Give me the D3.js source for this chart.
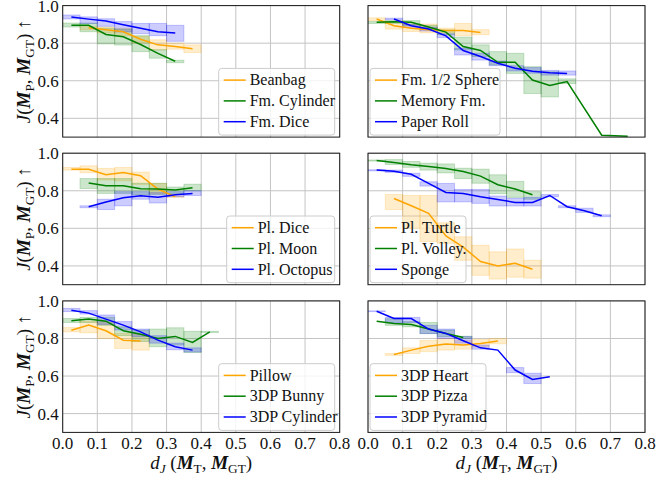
<!DOCTYPE html>
<html>
<head>
<meta charset="utf-8">
<script src="https://cdn.jsdelivr.net/npm/d3@7"></script>
</head>
<body style="margin:0">
<div id="chart"></div>
<script>

// each series: [x (bin centre), mean, low, high]

var beanbag = [[0.075,0.882,0.871,0.889],[0.125,0.871,0.854,0.886],[0.175,0.861,0.839,0.880],
  [0.225,0.821,0.800,0.836],[0.275,0.791,0.764,0.818],[0.325,0.782,0.768,0.800],[0.375,0.770,0.750,0.791]];
var fmCylinder = [[0.025,0.895,0.886,0.907],[0.075,0.895,0.861,0.907],[0.125,0.846,0.796,0.880],
  [0.175,0.834,0.790,0.875],[0.225,0.793,0.755,0.840],[0.275,0.746,0.720,0.765],[0.325,0.704,0.696,0.709]];
var fmDice = [[0.025,0.939,0.929,0.950],[0.075,0.928,0.905,0.940],[0.125,0.918,0.890,0.930],
  [0.175,0.898,0.860,0.915],[0.225,0.879,0.850,0.905],[0.275,0.861,0.840,0.905],[0.325,0.854,0.810,0.895]];

var fmHalfSphere = [[0.025,0.929,0.920,0.935],[0.075,0.893,0.875,0.915],[0.125,0.880,0.862,0.902],
  [0.175,0.871,0.855,0.902],[0.225,0.868,0.855,0.880],[0.275,0.868,0.840,0.905],[0.325,0.857,0.845,0.872]];
var memoryFm = [[0.025,0.911,0.905,0.915],[0.075,0.914,0.905,0.920],[0.125,0.911,0.895,0.920],
  [0.175,0.886,0.875,0.895],[0.225,0.859,0.845,0.870],[0.275,0.782,0.764,0.832],[0.325,0.761,0.729,0.791],
  [0.375,0.698,0.684,0.755],[0.425,0.698,0.639,0.746],[0.475,0.604,0.532,0.675],[0.525,0.575,0.514,0.648],
  [0.575,0.596,0.585,0.610],[0.675,0.310,0.310,0.310],[0.750,0.305,0.305,0.305]];
var paperRoll = [[0.075,0.929,0.925,0.933],[0.125,0.893,0.885,0.900],[0.175,0.875,0.865,0.885],
  [0.225,0.839,0.830,0.850],[0.275,0.761,0.737,0.773],[0.325,0.729,0.710,0.746],[0.375,0.693,0.680,0.705],
  [0.425,0.666,0.652,0.680],[0.475,0.650,0.640,0.670],[0.525,0.643,0.630,0.655],[0.575,0.639,0.630,0.652]];

var plDice = [[0.025,0.915,0.910,0.924],[0.075,0.915,0.896,0.933],[0.125,0.885,0.857,0.919],
  [0.175,0.897,0.853,0.924],[0.225,0.880,0.834,0.900],[0.275,0.809,0.786,0.839],[0.325,0.768,0.765,0.772]];
var plMoon = [[0.075,0.841,0.812,0.865],[0.125,0.827,0.786,0.865],[0.175,0.827,0.786,0.865],
  [0.225,0.811,0.780,0.840],[0.275,0.809,0.780,0.840],[0.325,0.804,0.785,0.820],[0.375,0.816,0.800,0.835]];
var plOctopus = [[0.075,0.715,0.710,0.720],[0.125,0.740,0.700,0.755],[0.175,0.763,0.720,0.795],
  [0.225,0.773,0.755,0.795],[0.275,0.766,0.735,0.790],[0.325,0.779,0.768,0.795],[0.375,0.786,0.775,0.800]];

var plTurtle = [[0.075,0.759,0.700,0.780],[0.125,0.720,0.600,0.775],[0.175,0.680,0.530,0.775],
  [0.225,0.560,0.520,0.630],[0.275,0.500,0.430,0.555],[0.325,0.423,0.350,0.510],[0.375,0.400,0.330,0.475],
  [0.425,0.414,0.340,0.490],[0.475,0.382,0.335,0.430]];
var plVolley = [[0.025,0.961,0.958,0.964],[0.075,0.950,0.940,0.966],[0.125,0.938,0.925,0.956],
  [0.175,0.929,0.910,0.947],[0.225,0.918,0.895,0.943],[0.275,0.903,0.865,0.920],[0.325,0.878,0.840,0.915],
  [0.375,0.832,0.785,0.885],[0.425,0.809,0.765,0.850],[0.475,0.779,0.755,0.795]];
var sponge = [[0.025,0.910,0.906,0.912],[0.075,0.904,0.898,0.910],[0.125,0.888,0.877,0.893],
  [0.175,0.839,0.825,0.848],[0.225,0.791,0.741,0.839],[0.275,0.786,0.741,0.807],[0.325,0.768,0.733,0.807],
  [0.375,0.754,0.719,0.772],[0.425,0.738,0.719,0.760],[0.475,0.738,0.719,0.765],[0.525,0.775,0.768,0.780],
  [0.575,0.715,0.710,0.720],[0.625,0.694,0.685,0.707],[0.675,0.667,0.662,0.672]];

var pillow = [[0.025,0.844,0.835,0.858],[0.075,0.871,0.830,0.892],[0.125,0.841,0.800,0.888],
  [0.175,0.791,0.747,0.827],[0.225,0.786,0.738,0.821]];
var bunny3dp = [[0.025,0.894,0.885,0.906],[0.075,0.903,0.885,0.912],[0.125,0.892,0.870,0.912],
  [0.175,0.841,0.815,0.862],[0.225,0.823,0.784,0.845],[0.275,0.800,0.756,0.850],[0.325,0.811,0.765,0.857],
  [0.375,0.779,0.725,0.838],[0.425,0.835,0.832,0.838]];
var cylinder3dp = [[0.025,0.950,0.943,0.960],[0.075,0.935,0.930,0.948],[0.125,0.903,0.875,0.925],
  [0.175,0.871,0.845,0.890],[0.225,0.835,0.810,0.850],[0.275,0.791,0.775,0.815],[0.325,0.756,0.740,0.775],
  [0.375,0.738,0.728,0.750]];

var heart3dp = [[0.075,0.715,0.710,0.720],[0.125,0.738,0.720,0.750],[0.175,0.759,0.730,0.790],
  [0.225,0.770,0.738,0.800],[0.275,0.765,0.743,0.790],[0.325,0.773,0.755,0.795],[0.375,0.786,0.772,0.800]];
var pizza3dp = [[0.025,0.892,0.892,0.892],[0.075,0.880,0.870,0.905],[0.125,0.874,0.862,0.890],
  [0.175,0.850,0.826,0.885],[0.225,0.827,0.810,0.845],[0.275,0.805,0.800,0.812]];
var pyramid3dp = [[0.025,0.945,0.943,0.947],[0.075,0.906,0.885,0.912],[0.125,0.906,0.885,0.912],
  [0.175,0.850,0.826,0.870],[0.225,0.827,0.800,0.850],[0.275,0.788,0.775,0.810],[0.325,0.750,0.743,0.765],
  [0.375,0.738,0.738,0.738],[0.425,0.632,0.618,0.645],[0.475,0.582,0.560,0.615],[0.525,0.596,0.596,0.596]];

var colors = ["orange", "green", "blue"];
var xTicks = [0.0, 0.1, 0.2, 0.3, 0.4, 0.5, 0.6, 0.7, 0.8];
var yTicks = [0.4, 0.6, 0.8, 1.0];
var binWidth = 0.05;

// panels in reading order, left column then right column per row
// (legend box widths measured off the reference, so no text measuring is needed)
var panels = [
  { names: ["Beanbag", "Fm. Cylinder", "Fm. Dice"], data: [beanbag, fmCylinder, fmDice], legend: "right", lw: 116 },
  { names: ["Fm. 1/2 Sphere", "Memory Fm.", "Paper Roll"], data: [fmHalfSphere, memoryFm, paperRoll], legend: "left", lw: 130 },
  { names: ["Pl. Dice", "Pl. Moon", "Pl. Octopus"], data: [plDice, plMoon, plOctopus], legend: "right", lw: 108 },
  { names: ["Pl. Turtle", "Pl. Volley.", "Sponge"], data: [plTurtle, plVolley, sponge], legend: "left", lw: 96 },
  { names: ["Pillow", "3DP Bunny", "3DP Cylinder"], data: [pillow, bunny3dp, cylinder3dp], legend: "right", lw: 116 },
  { names: ["3DP Heart", "3DP Pizza", "3DP Pyramid"], data: [heart3dp, pizza3dp, pyramid3dp], legend: "left", lw: 116 }
];

// layout

var W = 668, H = 479;
var colX = [62.7, 368];
var rowY = [5.6, 153.2, 300.9];
var pw = 277, ph = 131.5;
var fontName = "'Liberation Serif'";

var svg = d3.select("#chart")
  .append("svg")
  .attr("width", W)
  .attr("height", H);

var x = d3.scaleLinear().domain([0, 0.8]).range([0, pw]);
var y = d3.scaleLinear().domain([0.3, 1.0]).range([ph, 0]);

var line = d3.line()
  .x(function(d) { return x(d[0]); })
  .y(function(d) { return y(d[1]); });

// all text goes through here so the serif face is set on the element itself
var addText = function(parent, size) {
  return parent.append("text")
    .attr("font-size", size)
    .attr("fill", "#111")
    .style("font-family", fontName);
};

// writes math-ish text made of parts into a text element
var mathText = function(sel, parts, size) {
  parts.forEach(function(p) {
    var t = sel.append("tspan").text(p.t).style("font-family", fontName);
    if (p.it) { t.style("font-style", "italic"); }
    if (p.bold) { t.style("font-weight", "bold"); }
    if (p.sub) {
      t.attr("font-size", size * 0.7).attr("dy", size * 0.2);
    } else if (p.after) {
      t.attr("dy", -size * 0.2);
    }
  });
};

var yLabelParts = [
  { t: "J", it: true }, { t: "(" }, { t: "M", it: true, bold: true }, { t: "P", sub: true },
  { t: ", ", after: true }, { t: "M", it: true, bold: true }, { t: "GT", sub: true },
  { t: ") \u2191", after: true }
];
var xLabelParts = [
  { t: "d", it: true }, { t: "J", it: true, sub: true }, { t: " (", after: true },
  { t: "M", it: true, bold: true }, { t: "T", sub: true },
  { t: ", ", after: true }, { t: "M", it: true, bold: true }, { t: "GT", sub: true },
  { t: ")", after: true }
];

panels.forEach(function(panel, i) {
  var col = i % 2, row = Math.floor(i / 2);
  var g = svg.append("g").attr("transform", "translate(" + colX[col] + "," + rowY[row] + ")");

  var clipId = "clip" + i;
  g.append("clipPath").attr("id", clipId)
    .append("rect").attr("width", pw).attr("height", ph);

  // grid
  g.selectAll(".gx").data(xTicks).enter().append("line")
    .attr("x1", function(d) { return x(d); }).attr("x2", function(d) { return x(d); })
    .attr("y1", 0).attr("y2", ph)
    .attr("stroke", "#c4c4c4").attr("stroke-width", 1);
  g.selectAll(".gy").data(yTicks).enter().append("line")
    .attr("x1", 0).attr("x2", pw)
    .attr("y1", function(d) { return y(d); }).attr("y2", function(d) { return y(d); })
    .attr("stroke", "#c4c4c4").attr("stroke-width", 1);

  // legend box sits under the data, like the reference where lines show through it
  var bw = panel.lw, bh = 66.7;
  var lx = panel.legend == "right" ? pw - 5 - bw : 2;
  var lg = g.append("g").attr("transform", "translate(" + lx + "," + (ph - 2 - bh) + ")");
  lg.append("rect")
    .attr("width", bw).attr("height", bh)
    .attr("fill", "#fff").attr("fill-opacity", 0.8)
    .attr("stroke", "#cccccc").attr("stroke-width", 1)
    .attr("rx", 3);

  var plot = g.append("g").attr("clip-path", "url(#" + clipId + ")");

  // bands per bin
  panel.data.forEach(function(series, k) {
    plot.selectAll(".band" + k)
      .data(series.filter(function(d) { return d[3] - d[2] > 0.002; }))
      .enter().append("rect")
      .attr("x", function(d) { return x(d[0] - binWidth / 2); })
      .attr("width", x(binWidth))
      .attr("y", function(d) { return y(d[3]); })
      .attr("height", function(d) { return y(d[2]) - y(d[3]); })
      .attr("fill", colors[k]).attr("fill-opacity", 0.2)
      .attr("stroke", colors[k]).attr("stroke-opacity", 0.2).attr("stroke-width", 1);
  });

  // mean lines
  panel.data.forEach(function(series, k) {
    plot.append("path")
      .attr("d", line(series))
      .attr("fill", "none")
      .attr("stroke", colors[k])
      .attr("stroke-width", 1.5);
  });

  // legend entries
  var le = g.append("g").attr("transform", "translate(" + lx + "," + (ph - 2 - bh) + ")");
  panel.names.forEach(function(name, k) {
    var cy = 11.7 + k * 20.8;
    le.append("line")
      .attr("x1", 5).attr("x2", 27)
      .attr("y1", cy).attr("y2", cy)
      .attr("stroke", colors[k]).attr("stroke-width", 1.5);
    addText(le, 16)
      .attr("x", 31).attr("y", cy).attr("dy", "0.33em")
      .text(name);
  });

  // frame
  g.append("rect").attr("width", pw).attr("height", ph)
    .attr("fill", "none").attr("stroke", "#1a1a1a").attr("stroke-width", 1);

  // tick labels
  if (col == 0) {
    yTicks.forEach(function(d) {
      addText(g, 17)
        .attr("x", -4).attr("y", y(d))
        .attr("dy", "0.35em")
        .attr("text-anchor", "end")
        .text(d.toFixed(1));
    });

    var yl = addText(g, 19)
      .attr("transform", "translate(-32.5," + (ph / 2) + ") rotate(-90)")
      .attr("text-anchor", "middle");
    mathText(yl, yLabelParts, 19);
  }
  if (row == 2) {
    xTicks.forEach(function(d) {
      addText(g, 17)
        .attr("x", x(d)).attr("y", ph + 16.5)
        .attr("text-anchor", "middle")
        .text(d.toFixed(1));
    });

    var xl = addText(g, 19)
      .attr("x", pw / 2).attr("y", ph + 37)
      .attr("text-anchor", "middle");
    mathText(xl, xLabelParts, 19);
  }
});

</script>
</body>
</html>
